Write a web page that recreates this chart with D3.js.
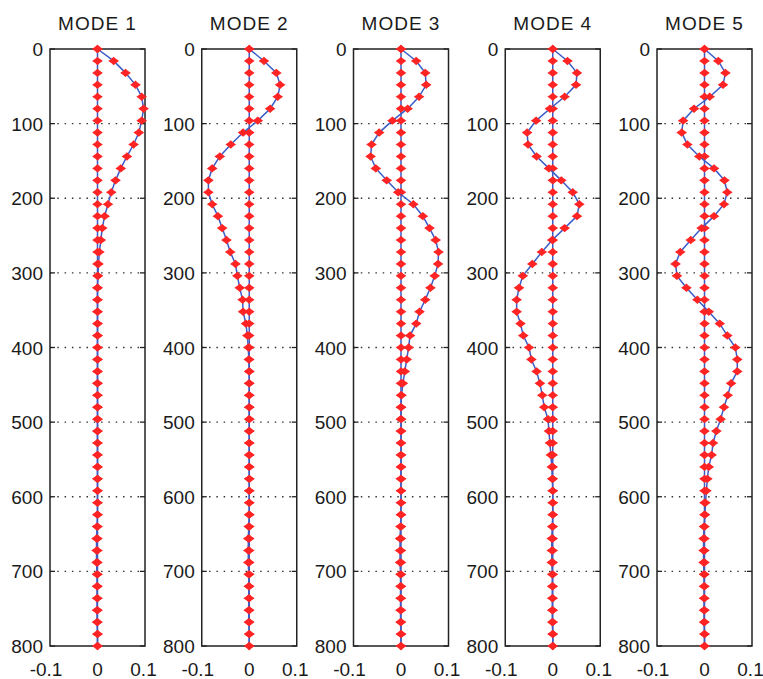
<!DOCTYPE html>
<html>
<head>
<meta charset="utf-8">
<script src="https://cdn.jsdelivr.net/npm/d3@7"></script>
<style>
  body { margin: 0; background: #fff; }
  text { font-family: "Liberation Sans", Arial, sans-serif; fill: #1a1a1a; }
</style>
</head>
<body>
<svg width="763" height="679"></svg>
<script>
// depth levels (0..800, step 16)
const depth = [0,16,32,48,64,80,96,112,128,144,160,176,192,208,224,240,256,272,288,304,320,
  336,352,368,384,400,416,432,448,464,480,496,512,528,544,560,576,592,608,624,640,
  656,672,688,704,720,736,752,768,784,800];

const titles = ["MODE 1", "MODE 2", "MODE 3", "MODE 4", "MODE 5"];

const mode1 = [0,0.034,0.059,0.080,0.093,0.097,0.093,0.087,0.076,0.062,0.049,0.038,0.029,0.022,0.015,0.010,
  0.007,0.004,0.002,0.001,0,0,0,0,0,0,0,0,0,0,0,0,0,0,0,0,0,0,0,0,0,0,0,0,0,0,0,0,0,0,0];
const mode2 = [0,0.031,0.057,0.065,0.060,0.044,0.018,-0.013,-0.039,-0.062,-0.078,-0.086,-0.086,-0.078,-0.066,-0.057,
  -0.048,-0.040,-0.029,-0.025,-0.020,-0.014,-0.013,-0.007,-0.004,-0.002,-0.001,0,0,0,0,0,0,0,0,0,0,0,0,0,0,
  0,0,0,0,0,0,0,0,0,0];
const mode3 = [0,0.032,0.051,0.053,0.038,0.014,-0.018,-0.046,-0.062,-0.064,-0.053,-0.030,-0.006,0.026,0.046,0.060,
  0.073,0.079,0.078,0.071,0.062,0.051,0.039,0.032,0.019,0.016,0.012,0.008,0.004,0.001,0,0,0,0,0,0,0,0,0,0,0,
  0,0,0,0,0,0,0,0,0,0];
const mode4 = [0,0.031,0.051,0.049,0.025,-0.006,-0.035,-0.054,-0.052,-0.034,-0.008,0.018,0.042,0.056,0.051,0.025,
  -0.001,-0.023,-0.043,-0.063,-0.071,-0.076,-0.076,-0.068,-0.062,-0.050,-0.045,-0.034,-0.027,-0.022,-0.018,
  -0.010,-0.008,-0.006,-0.004,-0.002,-0.001,0,0,0,0,0,0,0,0,0,0,0,0,0,0];
const mode5 = [0,0.029,0.044,0.039,0.011,-0.022,-0.045,-0.048,-0.036,-0.011,0.020,0.042,0.048,0.041,0.020,-0.006,
  -0.029,-0.051,-0.061,-0.058,-0.038,-0.015,0.009,0.032,0.048,0.065,0.069,0.069,0.056,0.049,0.041,0.034,0.025,
  0.018,0.015,0.009,0.006,0.004,0.002,0.001,0,0,0,0,0,0,0,0,0,0,0];
const zeroLine = [0,0,0,0,0,0,0,0,0,0,0,0,0,0,0,0,0,0,0,0,0,0,0,0,0,0,0,0,0,0,0,0,0,0,0,0,0,0,0,0,
  -0.001,-0.002,-0.002,-0.002,-0.001,-0.001,-0.001,-0.001,-0.001,0,0];

const modes = [mode1, mode2, mode3, mode4, mode5];
const yTicks = [0,100,200,300,400,500,600,700,800];
const xTicks = [-0.1, 0, 0.1];

const svg = d3.select("svg");
const plotTop = 49, plotBottom = 646, panelW = 95;
const panelLeft = d3.scaleLinear().domain([0, 4]).range([50, 657]);

const y = d3.scaleLinear().domain([0, 800]).range([plotTop, plotBottom]);
const markerPath = "M-4.3,0 L-2,-1.6 L0,-3.4 L2,-1.6 L4.3,0 L2,1.6 L0,3.4 L-2,1.6 Z";

modes.forEach((vals, i) => {
  const x0 = panelLeft(i);
  const x = d3.scaleLinear().domain([-0.1, 0.1]).range([x0, x0 + panelW]);
  const g = svg.append("g");

  // dotted grid
  g.selectAll(null)
    .data(yTicks.slice(1, -1))
    .enter().append("line")
    .attr("x1", x0).attr("x2", x0 + panelW)
    .attr("y1", d => y(d)).attr("y2", d => y(d))
    .attr("stroke", "#333").attr("stroke-width", 1.3)
    .attr("stroke-dasharray", "1.5,5.8");

  // inward ticks
  g.selectAll(null).data(yTicks).enter().append("line")
    .attr("x1", x0).attr("x2", x0 + 5)
    .attr("y1", d => y(d)).attr("y2", d => y(d))
    .attr("stroke", "#222").attr("stroke-width", 1.3);
  g.selectAll(null).data(yTicks).enter().append("line")
    .attr("x1", x0 + panelW - 5).attr("x2", x0 + panelW)
    .attr("y1", d => y(d)).attr("y2", d => y(d))
    .attr("stroke", "#222").attr("stroke-width", 1.3);

  // box
  g.append("rect")
    .attr("x", x0).attr("y", plotTop)
    .attr("width", panelW).attr("height", plotBottom - plotTop)
    .attr("fill", "none").attr("stroke", "#222").attr("stroke-width", 1.5);

  // y labels
  g.selectAll(null).data(yTicks).enter().append("text")
    .attr("x", x0 - 7).attr("y", d => y(d) + 7)
    .attr("text-anchor", "end").attr("font-size", 19)
    .text(d => d);

  // x labels
  g.selectAll(null).data(xTicks).enter().append("text")
    .attr("x", d => x(d)).attr("y", 676)
    .attr("dx", d => d < 0 ? -4 : d > 0 ? -1.5 : 0)
    .attr("text-anchor", "middle").attr("font-size", 19)
    .text(d => String(d));

  // title
  g.append("text")
    .attr("x", x0 + panelW / 2).attr("y", 30)
    .attr("text-anchor", "middle").attr("font-size", 19)
    .attr("letter-spacing", 1)
    .text(titles[i]);

  const line = d3.line().x(d => x(d[0])).y(d => y(d[1]));
  [zeroLine, vals].forEach(series => {
    const pts = series.map((v, k) => [v, depth[k]]);
    g.append("path")
      .attr("d", line(pts))
      .attr("fill", "none").attr("stroke", "#3a5cc8").attr("stroke-width", 1.5);
    g.selectAll(null).data(pts).enter().append("path")
      .attr("d", markerPath)
      .attr("transform", d => `translate(${x(d[0])},${y(d[1])})`)
      .attr("fill", "#ff2424").attr("stroke", "#ff2424").attr("stroke-width", 1.2);
  });
});
</script>
</body>
</html>
